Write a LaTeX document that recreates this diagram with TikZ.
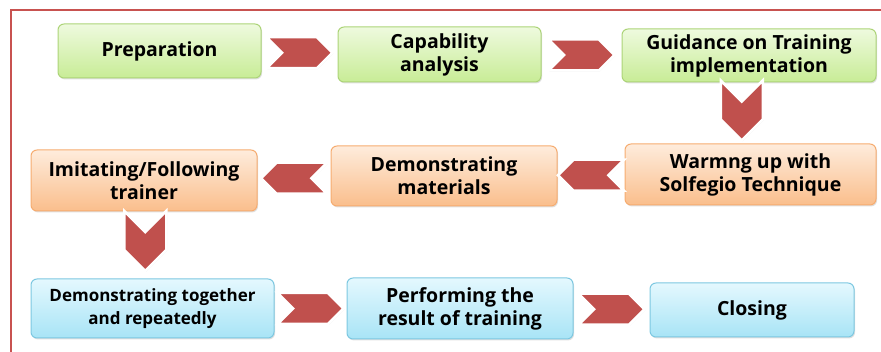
\documentclass[tikz,border=0pt]{standalone}
\usepackage{fontspec}
\setmainfont{Open Sans}
\usetikzlibrary{shapes.symbols,shadows,positioning}

\definecolor{framered}{RGB}{200,82,80}
\definecolor{arrred}{RGB}{192,80,77}
\definecolor{grnline}{RGB}{172,212,120}
\definecolor{grntop}{RGB}{238,250,222}
\definecolor{grnbot}{RGB}{200,236,150}
\definecolor{orgline}{RGB}{246,172,112}
\definecolor{orgtop}{RGB}{254,236,220}
\definecolor{orgbot}{RGB}{250,190,140}
\definecolor{bluline}{RGB}{125,200,225}
\definecolor{blutop}{RGB}{228,248,254}
\definecolor{blubot}{RGB}{168,228,246}

\begin{document}
\begin{tikzpicture}[x=1pt,y=-1pt,
  box/.style={rounded corners=6pt,line width=1pt,align=center,inner sep=2pt,
    font=\bfseries\fontsize{19.5}{23}\selectfont,
    drop shadow={shadow xshift=1pt,shadow yshift=-1.5pt,opacity=.25}},
  gbox/.style={box,draw=grnline,top color=grntop,bottom color=grnbot},
  obox/.style={box,draw=orgline,top color=orgtop,bottom color=orgbot},
  bbox/.style={box,draw=bluline,top color=blutop,bottom color=blubot},
  chev/.style={signal,fill=arrred,draw=white,line width=2.5pt,inner sep=0pt,
    signal pointer angle=90,
    drop shadow={shadow xshift=.8pt,shadow yshift=-.8pt,opacity=.3}},
  chevr/.style={chev,signal from=west,signal to=east,minimum width=66pt,minimum height=31pt},
  chevl/.style={chev,signal from=east,signal to=west,minimum width=66pt,minimum height=31pt},
  chevd/.style={chev,signal from=west,signal to=east,rotate=-90,minimum width=60pt,minimum height=42pt}]

  \useasboundingbox (0,0) rectangle (881,352);

  % frame
  \draw[framered,line width=2pt] (11,352) |- (881,10);

  % row 1
  \node[gbox,minimum width=203pt,minimum height=54pt] (prep) at (159.5,51) {Preparation};
  \node[gbox,minimum width=203pt,minimum height=55pt] (cap) at (439.5,54.5) {Capability\\analysis};
  \node[gbox,minimum width=254pt,minimum height=53pt] (guid) at (749,55.5) {Guidance on Training\\implementation};

  % row 2
  \node[obox,minimum width=251pt,minimum height=61pt] (warm) at (750.5,174.5) {Warmng up with\\Solfegio Technique};
  \node[obox,minimum width=226pt,minimum height=60pt] (demo) at (444,176) {Demonstrating\\materials};
  \node[obox,minimum width=226pt,minimum height=61pt] (imit) at (144,180.5) {Imitating/Following\\trainer};

  % row 3
  \node[bbox,minimum width=243pt,minimum height=59pt,font=\bfseries\fontsize{17}{23}\selectfont] (tog) at (152.5,308.5) {Demonstrating together\\and repeatedly};
  \node[bbox,minimum width=226pt,minimum height=61pt] (perf) at (460,308.5) {Performing the\\result of training};
  \node[bbox,minimum width=204pt,minimum height=54pt] (clos) at (752,310) {Closing};

  % arrows
  \path (prep.east) -- node[chevr] {} (cap.west);
  \path (cap.east) -- node[chevr] {} (guid.west);
  \path (guid.south) -- node[xshift=-8pt,yshift=2.5pt,chevd] {} (warm.north);
  \path (warm.west) -- node[chevl] {} (demo.east);
  \path (demo.west) -- node[chevl] {} (imit.east);
  \path (imit.south) -- node[xshift=-3pt,yshift=4pt,chevd] {} (tog.north);
  \path (tog.east) -- node[chevr] {} (perf.west);
  \path (perf.east) -- node[chevr] {} (clos.west);
\end{tikzpicture}
\end{document}
